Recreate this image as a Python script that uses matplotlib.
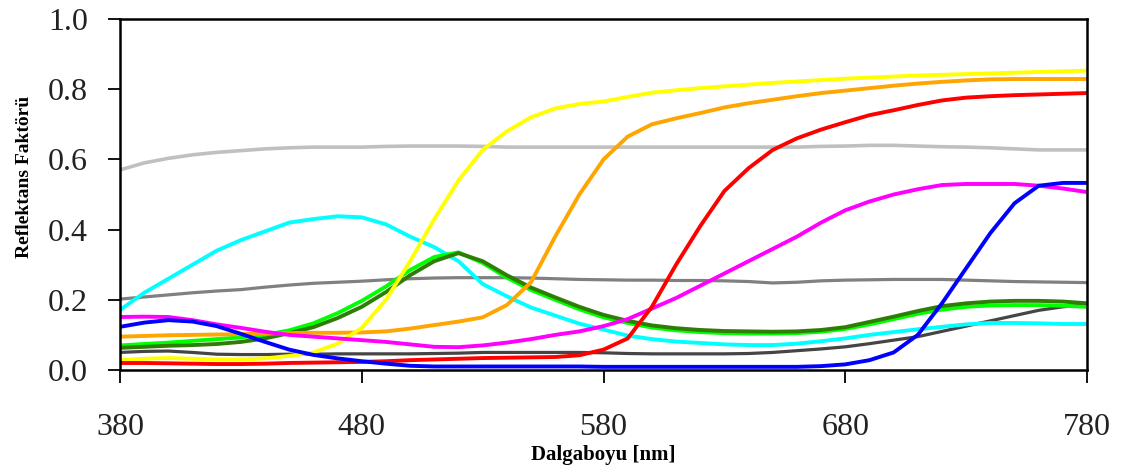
import matplotlib.pyplot as plt
import numpy as np

plt.rcParams['font.family'] = ['Liberation Serif', 'DejaVu Serif']

wavelength = np.arange(380, 781, 10)

gray_mid = [0.202, 0.208, 0.214, 0.22, 0.225, 0.229, 0.236, 0.242, 0.247, 0.25,
            0.253, 0.257, 0.26, 0.262, 0.263, 0.263, 0.263, 0.262, 0.26, 0.258,
            0.257, 0.256, 0.256, 0.255, 0.255, 0.254, 0.252, 0.248, 0.25, 0.254,
            0.256, 0.257, 0.258, 0.258, 0.258, 0.256, 0.254, 0.252, 0.251, 0.25, 0.249]
gray_dark = [0.05, 0.053, 0.054, 0.05, 0.045, 0.044, 0.044, 0.045, 0.045, 0.046,
             0.046, 0.046, 0.046, 0.047, 0.048, 0.05, 0.05, 0.05, 0.05, 0.05,
             0.049, 0.047, 0.046, 0.046, 0.046, 0.046, 0.047, 0.05, 0.055, 0.06,
             0.066, 0.075, 0.085, 0.095, 0.11, 0.125, 0.14, 0.155, 0.17, 0.18, 0.186]
gray_light = [0.57, 0.59, 0.603, 0.613, 0.62, 0.625, 0.63, 0.633, 0.635, 0.635,
              0.635, 0.637, 0.638, 0.638, 0.638, 0.637, 0.635, 0.635, 0.635, 0.635,
              0.635, 0.635, 0.635, 0.635, 0.635, 0.635, 0.635, 0.635, 0.635, 0.637,
              0.638, 0.64, 0.64, 0.638, 0.636, 0.635, 0.633, 0.63, 0.627, 0.627, 0.627]
cyan = [0.171, 0.22, 0.26, 0.3, 0.34, 0.37, 0.395, 0.42, 0.43, 0.438,
        0.435, 0.415, 0.38, 0.35, 0.31, 0.245, 0.21, 0.178, 0.155, 0.132,
        0.115, 0.098, 0.088, 0.081, 0.077, 0.073, 0.071, 0.071, 0.075, 0.082,
        0.09, 0.1, 0.108, 0.116, 0.123, 0.13, 0.134, 0.134, 0.133, 0.131, 0.131]
green_light = [0.07, 0.074, 0.078, 0.083, 0.088, 0.093, 0.1, 0.113, 0.133, 0.162,
               0.197, 0.238, 0.285, 0.322, 0.335, 0.305, 0.263, 0.228, 0.2, 0.173,
               0.15, 0.134, 0.121, 0.113, 0.108, 0.105, 0.104, 0.104, 0.105, 0.109,
               0.117, 0.13, 0.145, 0.16, 0.172, 0.18, 0.184, 0.185, 0.185, 0.183, 0.18]
green_dark = [0.063, 0.066, 0.069, 0.071, 0.074, 0.08, 0.09, 0.105, 0.122, 0.148,
              0.18, 0.222, 0.27, 0.31, 0.333, 0.31, 0.27, 0.235, 0.207, 0.18,
              0.157, 0.14, 0.127, 0.119, 0.114, 0.111, 0.11, 0.109, 0.11, 0.114,
              0.122, 0.137, 0.152, 0.168, 0.182, 0.19, 0.195, 0.197, 0.197, 0.195, 0.19]
orange = [0.095, 0.097, 0.099, 0.1, 0.101, 0.102, 0.104, 0.105, 0.106, 0.106,
          0.107, 0.11, 0.118, 0.128, 0.138, 0.15, 0.185, 0.25, 0.38, 0.5,
          0.6, 0.665, 0.7, 0.717, 0.732, 0.748, 0.76, 0.77, 0.78, 0.789,
          0.796, 0.803, 0.81, 0.816, 0.821, 0.825, 0.828, 0.829, 0.829, 0.829, 0.829]
yellow = [0.028, 0.032, 0.034, 0.032, 0.03, 0.03, 0.033, 0.04, 0.05, 0.075,
          0.12, 0.2, 0.31, 0.43, 0.54, 0.627, 0.68, 0.72, 0.745, 0.758,
          0.765, 0.778, 0.79, 0.797, 0.803, 0.808, 0.813, 0.818, 0.822, 0.826,
          0.83, 0.833, 0.836, 0.839, 0.841, 0.843, 0.845, 0.847, 0.849, 0.851, 0.853]
magenta = [0.151, 0.152, 0.151, 0.142, 0.13, 0.12, 0.109, 0.1, 0.095, 0.09,
           0.085, 0.08, 0.073, 0.066, 0.065, 0.07, 0.078, 0.088, 0.1, 0.11,
           0.125, 0.145, 0.175, 0.205, 0.24, 0.275, 0.31, 0.345, 0.38, 0.42,
           0.455, 0.48, 0.5, 0.515, 0.527, 0.53, 0.53, 0.53, 0.525, 0.517, 0.507]
red = [0.02, 0.02, 0.019, 0.018, 0.017, 0.017, 0.018, 0.02, 0.021, 0.022,
       0.023, 0.025, 0.028, 0.03, 0.032, 0.034, 0.035, 0.036, 0.037, 0.042,
       0.058, 0.09, 0.18, 0.3, 0.41, 0.51, 0.575, 0.627, 0.66, 0.685,
       0.706, 0.726, 0.74, 0.755, 0.768, 0.776, 0.78, 0.783, 0.785, 0.787, 0.789]
blue = [0.123, 0.135, 0.142, 0.138, 0.125, 0.103, 0.08, 0.058, 0.043, 0.033,
        0.025, 0.018, 0.012, 0.01, 0.01, 0.01, 0.01, 0.01, 0.01, 0.01,
        0.009, 0.009, 0.009, 0.009, 0.009, 0.009, 0.009, 0.009, 0.009, 0.011,
        0.016, 0.028, 0.05, 0.1, 0.19, 0.29, 0.39, 0.475, 0.525, 0.533, 0.533]

fig = plt.figure(figsize=(11.28, 4.69), dpi=100)
ax = fig.add_axes([0.1064, 0.2111, 0.8573, 0.7484])

series = [
    (gray_mid, '#808080', 2.3),
    (gray_dark, '#454545', 2.3),
    (gray_light, '#C0C0C0', 2.6),
    (cyan, '#00FFFF', 2.8),
    (green_light, '#00FF00', 2.8),
    (green_dark, '#2E7D05', 2.8),
    (orange, '#FFA500', 2.8),
    (yellow, '#FFFF00', 2.8),
    (magenta, '#FF00FF', 2.8),
    (red, '#FF0000', 2.8),
    (blue, '#0000FF', 2.8),
]
for vals, col, w in series:
    ax.plot(wavelength, vals, color=col, lw=w, solid_joinstyle='round', solid_capstyle='butt')

ax.set_xlim(380, 780)
ax.set_ylim(0, 1.0)
ax.set_xticks([380, 480, 580, 680, 780])
ax.set_yticks(np.arange(0, 1.01, 0.2))
ax.set_yticklabels(['0.0', '0.2', '0.4', '0.6', '0.8', '1.0'])

for s in ax.spines.values():
    s.set_linewidth(1.8)
ax.tick_params(axis='both', direction='out', length=9, width=1.3, labelsize=23,
               labelcolor='#222222')
ax.tick_params(axis='x', pad=22)
ax.tick_params(axis='y', pad=14)

ax.set_xlabel('Dalgaboyu [nm]', fontsize=15, fontweight='bold', labelpad=2)
ax.set_ylabel('Reflektans Faktörü', fontsize=14, fontweight='bold')
ax.yaxis.set_label_coords(-0.09, 0.55)

fig.savefig('out.png', dpi=100)
